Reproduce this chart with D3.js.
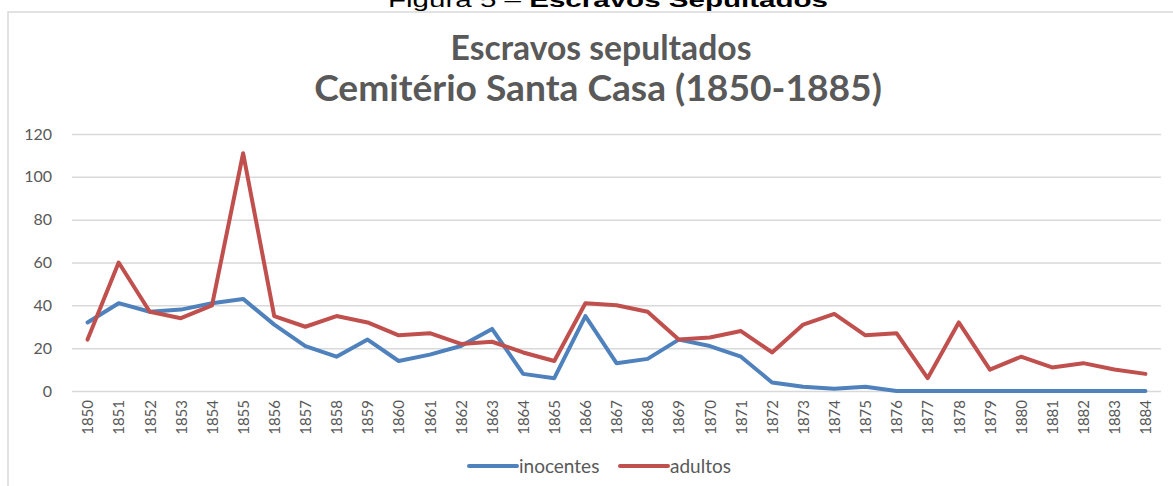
<!DOCTYPE html>
<html>
<head>
<meta charset="utf-8">
<script src="https://cdn.jsdelivr.net/npm/d3@7"></script>
<style>
  body { margin: 0; background: #fff; }
  svg { display: block; }
</style>
</head>
<body>
<script>
// anos / series
var years = ['1850','1851','1852','1853','1854','1855','1856','1857','1858','1859',
  '1860','1861','1862','1863','1864','1865','1866','1867','1868','1869',
  '1870','1871','1872','1873','1874','1875','1876','1877','1878','1879',
  '1880','1881','1882','1883','1884'];
var inocentes = [32,41,37,38,41,43,31,21,16,24,
  14,17,21,29,8,6,35,13,15,24,
  21,16,4,2,1,2,0,0,0,0,
  0,0,0,0,0];
var adultos = [24,60,37,34,40,111,35,30,35,32,
  26,27,22,23,18,14,41,40,37,24,
  25,28,18,31,36,26,27,6,32,10,
  16,11,13,10,8];
var yTicks = [0,20,40,60,80,100,120];
var seriesNames = ['inocentes','adultos'];
var seriesColors = ['#4F81BD','#C0504D'];

var width = 1173, height = 486;
var svg = d3.select('body').append('svg')
  .attr('width', width).attr('height', height);

// caption above the chart (cut off at the top, as in the scan)
var cap = svg.append('text')
  .attr('x', 608).attr('y', 7)
  .attr('text-anchor', 'middle')
  .attr('font-family', 'Liberation Sans, Arial, sans-serif')
  .attr('font-size', 20).attr('fill', '#000')
  .attr('textLength', 440).attr('lengthAdjust', 'spacingAndGlyphs');
cap.append('tspan').text('Figura 5 \u2013 ');
cap.append('tspan').attr('font-weight', 'bold').text('Escravos Sepultados');

// chart frame
svg.append('rect')
  .attr('x', 8).attr('y', 12).attr('width', 1200).attr('height', 500)
  .attr('fill', 'none').attr('stroke', '#d9d9d9').attr('stroke-width', 1.5);

// title
var t1 = svg.append('text').attr('x', 601).attr('y', 60)
  .attr('text-anchor', 'middle').attr('font-family', 'Lato, sans-serif')
  .attr('font-weight', 'bold').attr('font-size', 30).attr('fill', '#595959')
  .text('Escravos sepultados');
var t2 = svg.append('text').attr('x', 598).attr('y', 101)
  .attr('text-anchor', 'middle').attr('font-family', 'Lato, sans-serif')
  .attr('font-weight', 'bold').attr('font-size', 30).attr('fill', '#595959')
  .text('Cemitério Santa Casa (1850-1885)');
// fit the title widths to the picture
t1.attr('font-size', 30 * 301 / t1.node().getComputedTextLength());
t2.attr('font-size', 30 * 568 / t2.node().getComputedTextLength());

var x = d3.scalePoint().domain(years).range([72, 1161]).padding(0.5);
var y = d3.scaleLinear().domain([0, 120]).range([391, 134]);

// grid lines + y labels
var yAxis = d3.axisLeft(y).tickValues(yTicks).tickSize(-(1161 - 72)).tickPadding(20);
var gy = svg.append('g').attr('transform', 'translate(72,0)').call(yAxis);
gy.select('.domain').remove();
gy.selectAll('.tick line').attr('stroke', '#d9d9d9').attr('stroke-width', 1.5);
gy.selectAll('.tick text')
  .attr('font-family', 'Lato, sans-serif').attr('font-size', 16).attr('fill', '#595959');

// x labels
var xAxis = d3.axisBottom(x).tickSize(0).tickPadding(0);
var gx = svg.append('g').attr('transform', 'translate(0,391)').call(xAxis);
gx.select('.domain').remove();
gx.selectAll('.tick text')
  .attr('font-family', 'Lato, sans-serif').attr('font-size', 15).attr('fill', '#595959')
  .attr('text-anchor', 'end')
  .attr('transform', 'rotate(-90)')
  .attr('x', -9).attr('y', 0).attr('dy', '0.35em');

var line = d3.line()
  .x(function(d, i) { return x(years[i]); })
  .y(function(d) { return y(d); });

[inocentes, adultos].forEach(function(s, k) {
  svg.append('path')
    .datum(s)
    .attr('d', line)
    .attr('fill', 'none')
    .attr('stroke', seriesColors[k])
    .attr('stroke-width', 4)
    .attr('stroke-linejoin', 'round')
    .attr('stroke-linecap', 'round');
});

// legend
var legX = [469, 620];
seriesNames.forEach(function(n, k) {
  var g = svg.append('g').attr('transform', 'translate(' + legX[k] + ',466)');
  g.append('line').attr('x1', 0).attr('x2', 48).attr('y1', 0).attr('y2', 0)
    .attr('stroke', seriesColors[k]).attr('stroke-width', 4).attr('stroke-linecap', 'round');
  g.append('text').attr('x', 50).attr('y', 0).attr('dy', '0.35em')
    .attr('font-family', 'Lato, sans-serif').attr('font-size', 19).attr('fill', '#595959')
    .text(n);
});
</script>
</body>
</html>
